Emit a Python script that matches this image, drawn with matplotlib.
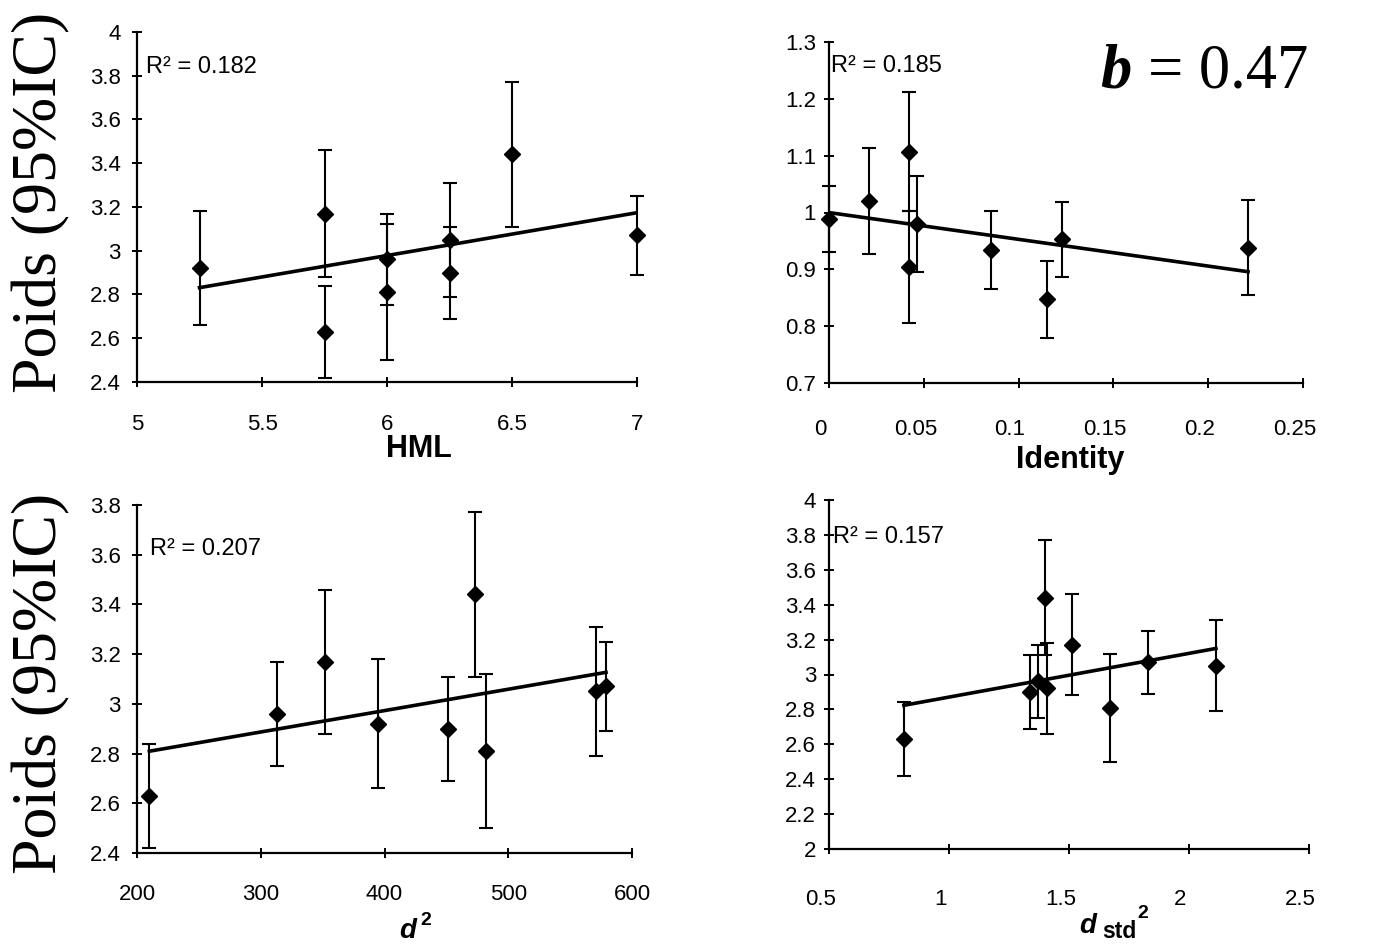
import matplotlib

matplotlib.use("Agg")
import matplotlib.pyplot as plt
import numpy as np
from matplotlib.ticker import FuncFormatter
from matplotlib.transforms import ScaledTranslation

plt.rcParams["font.family"] = "Liberation Sans"

W, H = 1399, 944

# nine groups: mean weight and 95% CI half-width (shared by HML, d2, dstd2 panels)
weight_mean = [2.92, 3.17, 2.63, 2.96, 2.81, 3.05, 2.90, 3.44, 3.07]
weight_ci = [0.26, 0.29, 0.21, 0.21, 0.31, 0.26, 0.21, 0.33, 0.18]
hml = [5.25, 5.75, 5.75, 6.0, 6.0, 6.25, 6.25, 6.5, 7.0]
d2 = [394.5, 352, 210, 313, 482, 571, 451, 473.5, 579]
dstd2 = [1.408, 1.512, 0.812, 1.370, 1.671, 2.112, 1.338, 1.400, 1.828]

# identity panel
identity = [0.0, 0.021, 0.042, 0.042, 0.0465, 0.0855, 0.115, 0.123, 0.221]
identity_mean = [0.988, 1.020, 1.107, 0.904, 0.980, 0.934, 0.847, 0.953, 0.938]
identity_ci = [0.058, 0.093, 0.105, 0.099, 0.084, 0.068, 0.068, 0.066, 0.084]

r2_labels = ["R² = 0.182", "R² = 0.185", "R² = 0.207", "R² = 0.157"]
y_label = "Poids (95%IC)"


def px_rect(left, top, right, bottom):
    return [left / W, 1 - bottom / H, (right - left) / W, (bottom - top) / H]


def fx(px):
    return px / W


def fy(py):
    return 1 - py / H


panels = [
    dict(x=hml, y=weight_mean, err=weight_ci, rect=px_rect(137, 32, 637, 382),
         xlim=(5, 7), xticks=np.linspace(5, 7, 5), ylim=(2.4, 4), yticks=np.linspace(2.4, 4, 9),
         xpad=19, ypad=8, xshift=0, r2=(0.019, 0.883)),
    dict(x=identity, y=identity_mean, err=identity_ci, rect=px_rect(829, 42, 1303, 383),
         xlim=(0, 0.25), xticks=np.linspace(0, 0.25, 6), ylim=(0.7, 1.3), yticks=np.linspace(0.7, 1.3, 7),
         xpad=22, ypad=5.5, xshift=-8.5, r2=(0.005, 0.912)),
    dict(x=d2, y=weight_mean, err=weight_ci, rect=px_rect(137, 505, 632, 853),
         xlim=(200, 600), xticks=np.linspace(200, 600, 5), ylim=(2.4, 3.8), yticks=np.linspace(2.4, 3.8, 8),
         xpad=18.5, ypad=8, xshift=0, r2=(0.026, 0.857)),
    dict(x=dstd2, y=weight_mean, err=weight_ci, rect=px_rect(829, 500, 1309, 849),
         xlim=(0.5, 2.5), xticks=np.linspace(0.5, 2.5, 5), ylim=(2, 4), yticks=np.linspace(2, 4, 11),
         xpad=25, ypad=5.5, xshift=-8.5, r2=(0.008, 0.877)),
]

fig = plt.figure(figsize=(W / 100, H / 100), dpi=100)
fmt = FuncFormatter(lambda v, _: f"{round(v, 4):g}")

for panel, r2 in zip(panels, r2_labels):
    ax = fig.add_axes(panel["rect"])
    x = np.array(panel["x"])
    y = np.array(panel["y"])

    coeffs = np.polyfit(x, y, 1)
    xs = np.array([x.min(), x.max()])
    ax.plot(xs, np.polyval(coeffs, xs), color="black", lw=2.6, zorder=3)
    ax.errorbar(x, y, yerr=panel["err"], fmt="D", color="black", ms=8,
                ecolor="black", elinewidth=1.5, capsize=5, capthick=1.5,
                clip_on=False, zorder=4)

    ax.set_xlim(panel["xlim"])
    ax.set_ylim(panel["ylim"])
    ax.set_xticks(panel["xticks"])
    ax.set_yticks(panel["yticks"])
    ax.xaxis.set_major_formatter(fmt)
    ax.yaxis.set_major_formatter(fmt)
    ax.spines[["top", "right"]].set_visible(False)
    for side in ["left", "bottom"]:
        ax.spines[side].set_linewidth(1.6)
    ax.tick_params(direction="inout", length=7.5, width=1.4, labelsize=16)
    ax.tick_params(axis="x", pad=panel["xpad"])
    ax.tick_params(axis="y", pad=panel["ypad"])

    if panel["xshift"]:
        offset = ScaledTranslation(panel["xshift"] / 100, 0, fig.dpi_scale_trans)
        for lab in ax.get_xticklabels():
            lab.set_transform(lab.get_transform() + offset)

    ax.text(panel["r2"][0], panel["r2"][1], r2, transform=ax.transAxes,
            fontsize=17, va="baseline", ha="left")

# y labels
for cy in (202, 683):
    fig.text(fx(41), fy(cy), y_label, rotation=90, ha="center", va="center",
             family="Liberation Serif", fontsize=46)

# x labels
fig.text(fx(419), fy(457), "HML", ha="center", va="baseline", fontsize=22, weight="bold")
fig.text(fx(1070), fy(468), "Identity", ha="center", va="baseline", fontsize=22, weight="bold")
fig.text(fx(399), fy(938), "d", ha="left", va="baseline", fontsize=20, weight="bold", style="italic")
fig.text(fx(420), fy(925), "2", ha="left", va="baseline", fontsize=14, weight="bold")
fig.text(fx(1079), fy(933), "d", ha="left", va="baseline", fontsize=20, weight="bold", style="italic")
fig.text(fx(1102), fy(938), "std", ha="left", va="baseline", fontsize=16.5, weight="bold")
fig.text(fx(1137), fy(918), "2", ha="left", va="baseline", fontsize=14, weight="bold")

# slope annotation
fig.text(fx(1100), fy(88), "b", ha="left", va="baseline", family="Liberation Serif",
         fontsize=45, weight="bold", style="italic")
fig.text(fx(1148), fy(88), "= 0.47", ha="left", va="baseline", family="Liberation Serif",
         fontsize=45)

fig.savefig("out.png", dpi=100)
